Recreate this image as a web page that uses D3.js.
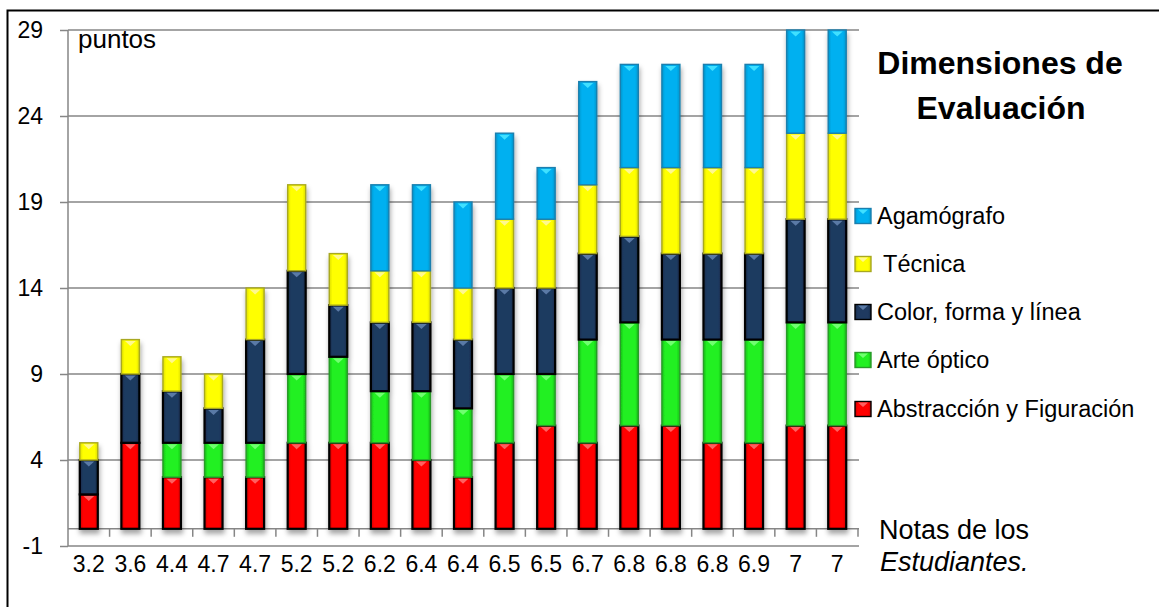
<!DOCTYPE html>
<html>
<head>
<meta charset="utf-8">
<script src="https://d3js.org/d3.v7.min.js"></script>
<style>
  body { margin: 0; background: #fff; }
  text { font-family: "Liberation Sans", Arial, sans-serif; fill: #000; }
</style>
</head>
<body>
<div id="chart"></div>
<script>
// data
var categories = ["3.2","3.6","4.4","4.7","4.7","5.2","5.2","6.2","6.4","6.4","6.5","6.5","6.7","6.8","6.8","6.8","6.9","7","7"];
var abstraccion = [2,5,3,3,3,5,5,5,4,3,5,6,5,6,6,5,5,6,6];
var arteOptico  = [0,0,2,2,2,4,5,3,4,4,4,3,6,6,5,6,6,6,6];
var colorForma  = [2,4,3,2,6,6,3,4,4,4,5,5,5,5,5,5,5,6,6];
var tecnica     = [1,2,2,2,3,5,3,3,3,3,4,4,4,4,5,5,5,5,5];
var agamografo  = [0,0,0,0,0,0,0,5,5,5,5,3,6,6,6,6,6,6,6];
var yTicks = [-1, 4, 9, 14, 19, 24, 29];

var seriesNames = ["Abstracción y Figuración", "Arte óptico", "Color, forma y línea", " Técnica", "Agamógrafo"];
var seriesKeys = ["abs", "arte", "color", "tec", "aga"];

// colours: fill, outline, bevel highlight
var styles = {
  abs:   {fill: "#ff0000", edge: "#c80000", line: "#000", hi: "#ff6060"},
  arte:  {fill: "#22f022", edge: "#16c016", line: "#2a9a2a", hi: "#70ff70"},
  color: {fill: "#1f3a60", edge: "#152a48", line: "#000", hi: "#5a7aa6"},
  tec:   {fill: "#ffff00", edge: "#dede00", line: "#a8a820", hi: "#fff890"},
  aga:   {fill: "#00b0f0", edge: "#0096cc", line: "#1a7fae", hi: "#40e0ff"}
};

var table = categories.map(function(c, i) {
  return {i: i, abs: abstraccion[i], arte: arteOptico[i], color: colorForma[i], tec: tecnica[i], aga: agamografo[i]};
});

var W = 1159, H = 607;
var svg = d3.select("#chart")
  .append("svg")
    .attr("width", W)
    .attr("height", H);

var defs = svg.append("defs");
seriesKeys.forEach(function(k) {
  var g = defs.append("linearGradient").attr("id", "g-" + k)
    .attr("x1", "0").attr("x2", "1").attr("y1", "0").attr("y2", "0");
  g.append("stop").attr("offset", "0").attr("stop-color", styles[k].edge);
  g.append("stop").attr("offset", "0.18").attr("stop-color", styles[k].fill);
  g.append("stop").attr("offset", "0.82").attr("stop-color", styles[k].fill);
  g.append("stop").attr("offset", "1").attr("stop-color", styles[k].edge);
});
var f = defs.append("filter").attr("id", "shadow")
  .attr("x", "-30%").attr("y", "-10%").attr("width", "160%").attr("height", "130%");
f.append("feDropShadow").attr("dx", 1).attr("dy", 4).attr("stdDeviation", 2.5)
  .attr("flood-color", "#000").attr("flood-opacity", 0.35);

// outer frame (left and top edges only visible)
svg.append("path")
  .attr("d", "M7.5," + H + "V10.5H" + W)
  .attr("fill", "none").attr("stroke", "#000").attr("stroke-width", 2);

var x = d3.scaleBand()
  .domain(d3.range(categories.length))
  .range([68, 858])
  .paddingInner(0.567)
  .paddingOuter(0.567 / 2);

var y = d3.scaleLinear()
  .domain([-1, 29])
  .range([546, 30]);

// y axis + labels
svg.append("g")
  .attr("transform", "translate(68,0)")
  .call(d3.axisLeft(y).tickValues(yTicks).tickSize(8).tickPadding(17)
    .tickFormat(function(d) { return String(d); }))
  .call(function(g) { g.select(".domain").attr("stroke", "#868686").attr("stroke-width", 1.5).attr("d", "M0," + y(29) + "V" + y(-1)); })
  .call(function(g) { g.selectAll(".tick line").attr("stroke", "#868686").attr("stroke-width", 1.5); })
  .call(function(g) { g.selectAll(".tick text").style("font-size", "23px").attr("fill", "#000"); });

// gridlines
svg.append("g").selectAll("line")
  .data(yTicks)
  .enter().append("line")
    .attr("x1", 68).attr("x2", 859)
    .attr("y1", function(d) { return y(d); })
    .attr("y2", function(d) { return y(d); })
    .attr("stroke", "#868686").attr("stroke-width", 1.5);

// category axis at zero
var step = x.step();
svg.append("line")
  .attr("x1", 68).attr("x2", 859)
  .attr("y1", y(0)).attr("y2", y(0))
  .attr("stroke", "#868686").attr("stroke-width", 1.5);
svg.append("g").selectAll("line")
  .data(d3.range(1, categories.length + 1))
  .enter().append("line")
    .attr("x1", function(d) { return x(d - 1) + x.bandwidth() + step * x.paddingInner() / 2; })
    .attr("x2", function(d) { return x(d - 1) + x.bandwidth() + step * x.paddingInner() / 2; })
    .attr("y1", y(0)).attr("y2", y(0) + 8)
    .attr("stroke", "#868686").attr("stroke-width", 1.5);

svg.append("g").selectAll("text")
  .data(categories)
  .enter().append("text")
    .attr("x", function(d, i) { return x(i) + x.bandwidth() / 2; })
    .attr("y", 572)
    .attr("text-anchor", "middle")
    .style("font-size", "23px")
    .text(function(d) { return d; });

// stacked bars
var stacked = d3.stack().keys(seriesKeys)(table);
var layers = svg.append("g").attr("filter", "url(#shadow)")
  .selectAll("g")
  .data(stacked)
  .enter().append("g");

var segs = layers.selectAll("g")
  .data(function(s) { return s.map(function(d) { return {k: s.key, y0: d[0], y1: d[1], i: d.data.i}; }).filter(function(d) { return d.y1 > d.y0; }); })
  .enter().append("g");

segs.append("rect")
  .attr("x", function(d) { return x(d.i); })
  .attr("y", function(d) { return y(d.y1); })
  .attr("width", x.bandwidth())
  .attr("height", function(d) { return y(d.y0) - y(d.y1); })
  .attr("fill", function(d) { return "url(#g-" + d.k + ")"; })
  .attr("stroke", function(d) { return styles[d.k].line; })
  .attr("stroke-width", function(d) { return (d.k === "abs" || d.k === "color") ? 2.2 : 1.4; });

segs.append("path")
  .attr("d", function(d) {
    var x0 = x(d.i), w = x.bandwidth(), t = y(d.y1) + 1.5;
    return "M" + (x0 + w * 0.2) + "," + t + "L" + (x0 + w * 0.8) + "," + t + "L" + (x0 + w / 2) + "," + (t + 5) + "Z";
  })
  .attr("fill", function(d) { return styles[d.k].hi; });

// labels
svg.append("text").attr("x", 78).attr("y", 48).style("font-size", "26px").text("puntos");

svg.append("text").attr("x", 1000).attr("y", 74).attr("text-anchor", "middle")
  .style("font-size", "32px").style("font-weight", "bold").text("Dimensiones de");
svg.append("text").attr("x", 1001).attr("y", 119).attr("text-anchor", "middle")
  .style("font-size", "32px").style("font-weight", "bold").text("Evaluación");

var notas = svg.append("text").attr("x", 879).attr("y", 539).style("font-size", "27px");
notas.append("tspan").attr("x", 879).text("Notas de los");
notas.append("tspan").attr("x", 880).attr("y", 571).style("font-style", "italic").text("Estudiantes.");

// legend (top to bottom: last series first)
var legendY = [216, 264, 312, 360, 409];
var legend = svg.append("g").selectAll("g")
  .data(seriesKeys.slice().reverse())
  .enter().append("g")
    .attr("transform", function(d, i) { return "translate(855," + legendY[i] + ")"; });
legend.append("rect")
  .attr("x", 0).attr("y", -7.5).attr("width", 16).attr("height", 15)
  .attr("fill", function(d) { return "url(#g-" + d + ")"; })
  .attr("stroke", function(d) { return styles[d].line; })
  .attr("stroke-width", 1.4);
legend.append("path")
  .attr("d", "M3,-6.5L13,-6.5L8,-2Z")
  .attr("fill", function(d) { return styles[d].hi; });
legend.append("text")
  .attr("x", 22).attr("y", 8)
  .style("font-size", "23.5px")
  .style("white-space", "pre")
  .attr("xml:space", "preserve")
  .text(function(d) { return seriesNames[seriesKeys.indexOf(d)]; });
</script>
</body>
</html>
